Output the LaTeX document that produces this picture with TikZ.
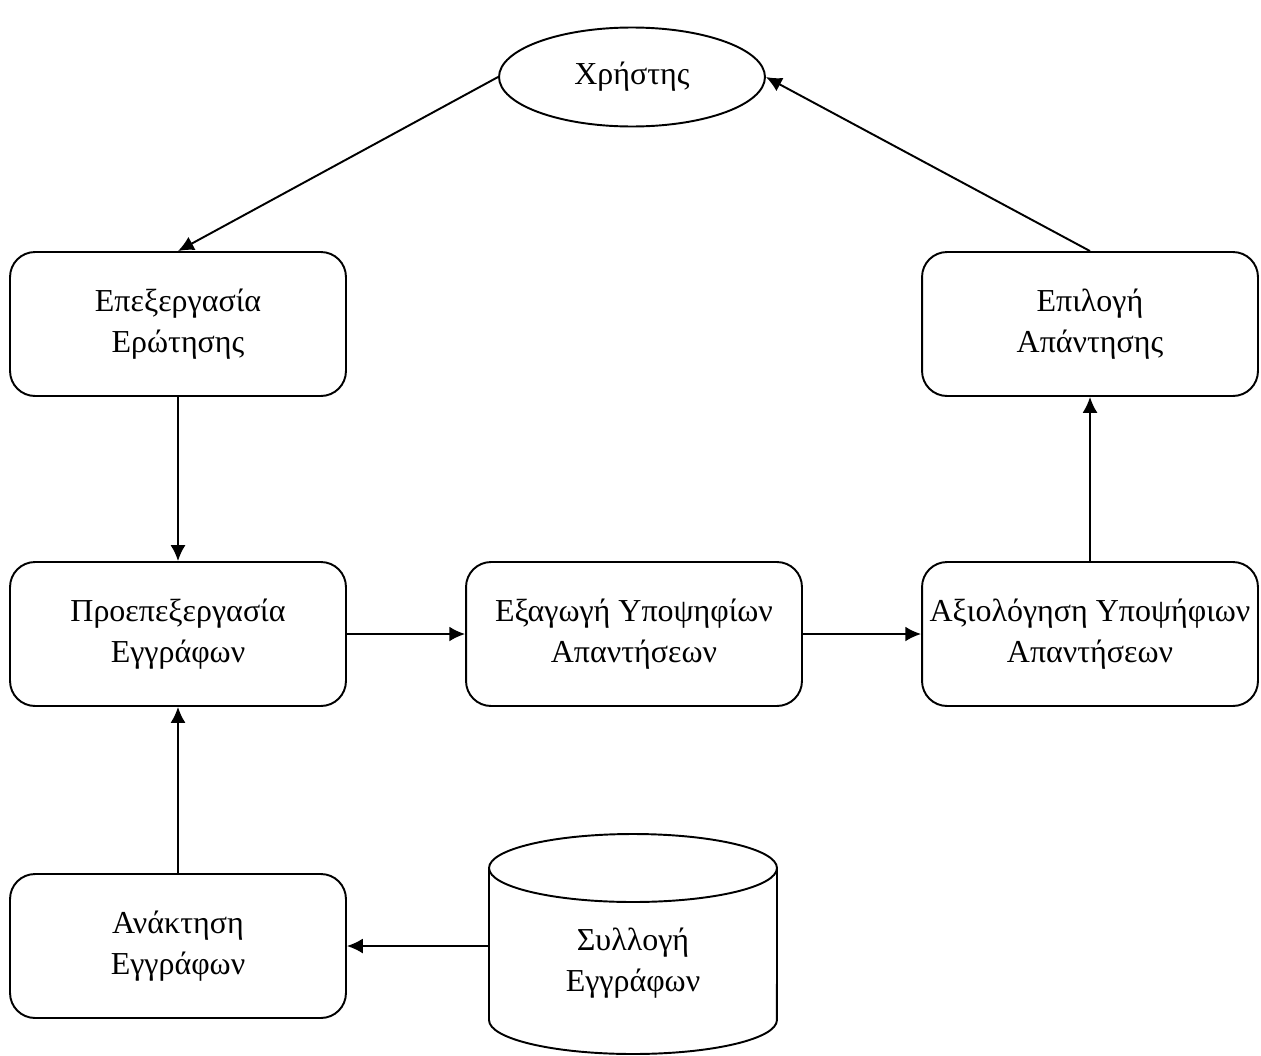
\documentclass[tikz,border=0pt]{standalone}
\usepackage{fontspec}
\setmainfont{Liberation Serif}
\usetikzlibrary{shapes.geometric,arrows.meta}

\tikzset{
  stepbox/.style={draw, line width=1.1pt, rounded corners=0.5cm, align=center,
    minimum width=6.72cm, minimum height=2.88cm, inner sep=1pt},
  userell/.style={draw, ellipse, line width=1.1pt, minimum width=5.32cm,
    minimum height=1.98cm, inner sep=0pt},
  dbtext/.style={align=center, minimum width=5.78cm, inner sep=0pt},
}

\begin{document}
\begin{tikzpicture}[x=0.02cm, y=-0.02cm, >={Latex[length=9pt,width=8.5pt]},
  line width=1.1pt, font=\fontsize{18.2}{23.5}\selectfont]
\useasboundingbox (0, 0) rectangle (1261, 1055);

\node[userell] (user) at (632, 77)   {Χρήστης};
\node[stepbox] (query) at (178, 324)  {Επεξεργασία\\Ερώτησης};
\node[stepbox] (select) at (1090, 324) {Επιλογή\\Απάντησης};
\node[stepbox] (prep) at (178, 634)   {Προεπεξεργασία\\Εγγράφων};
\node[stepbox] (extract) at (634, 634) {Εξαγωγή Υποψηφίων\\Απαντήσεων};
\node[stepbox] (rank) at (1090, 634)  {Αξιολόγηση Υποψήφιων\\Απαντήσεων};
\node[stepbox] (fetch) at (178, 946)  {Ανάκτηση\\Εγγράφων};
\node[dbtext] (docs) at (633, 963)    {Συλλογή\\Εγγράφων};

% document collection drum
\draw (633, 868) ellipse (2.88cm and 0.68cm);
\draw (489, 868) -- (489, 1020) arc (180:360:2.88cm and 0.68cm) -- (777, 868);

\path[->] (user.west) edge (query.north);
\path[->] (query.south) edge (prep.north);
\path[->] (prep.east) edge (extract.west);
\path[->] (extract.east) edge (rank.west);
\path[->] (rank.north) edge (select.south);
\path[->] (select.north) edge (user.east);
\path[->] (fetch.north) edge (prep.south);
\path[->] (fetch -| docs.west) edge (fetch.east);

\end{tikzpicture}
\end{document}
